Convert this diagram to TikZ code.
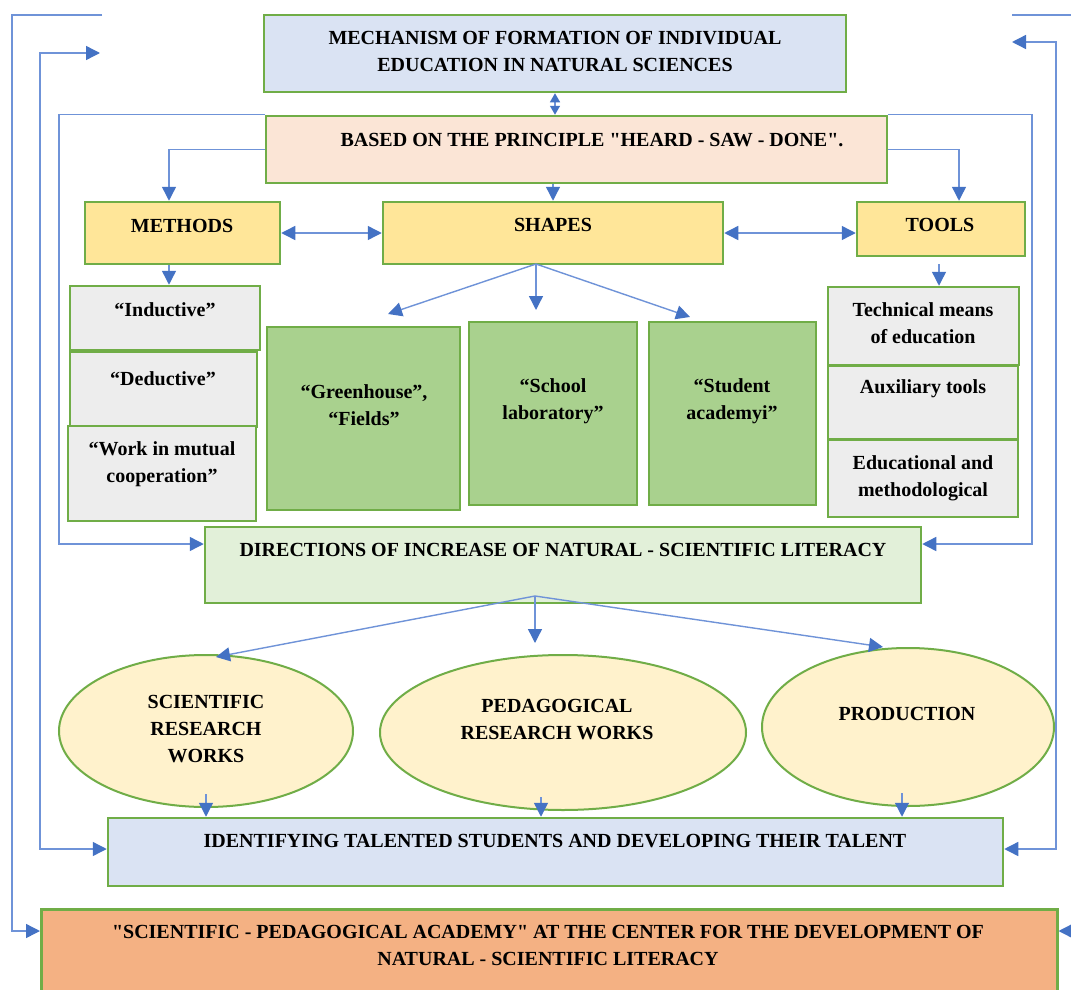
\documentclass[tikz,border=0pt]{standalone}
\usepackage{fontspec}
\setmainfont{Liberation Serif}[Ligatures=TeXOff]
\usetikzlibrary{arrows.meta,shapes.geometric}
\definecolor{bgreen}{HTML}{70AD47}
\definecolor{topblue}{HTML}{DAE3F3}
\definecolor{peach}{HTML}{FBE5D6}
\definecolor{yel}{HTML}{FFE699}
\definecolor{lgray}{HTML}{EDEDED}
\definecolor{mgreen}{HTML}{A9D18E}
\definecolor{pgreen}{HTML}{E2F0D9}
\definecolor{cream}{HTML}{FFF2CC}
\definecolor{orng}{HTML}{F4B183}
\definecolor{lineblue}{HTML}{6F93D8}
\definecolor{arrowblue}{HTML}{4472C4}
\begin{document}
\begin{tikzpicture}[x=1pt,y=-1pt,
  box/.style={draw=bgreen, line width=2.5pt, inner sep=0pt},
  ell/.style={ellipse, draw=bgreen, line width=2pt, fill=cream, inner sep=0pt},
  txt/.style={font=\fontsize{20}{27}\selectfont\bfseries, align=center, inner sep=0pt, text=black},
  conn/.style={draw=lineblue, line width=1.4pt},
  tip/.style={conn, -{Triangle[length=14pt,width=14pt,color=arrowblue]}},
  dtip/.style={conn, {Triangle[length=14pt,width=14pt,color=arrowblue]}-{Triangle[length=14pt,width=14pt,color=arrowblue]}},
  stip/.style={conn, {Triangle[length=9pt,width=10pt,color=arrowblue]}-{Triangle[length=9pt,width=10pt,color=arrowblue]}}
]
\clip (0,0) rectangle (1071,990);
\fill[white] (0,0) rectangle (1071,990);

% ---------- boxes ----------
\node[box, fill=topblue, minimum width=582pt, minimum height=77pt] (top) at (555,53.5) {};
\node[txt] (topT) at (555,51.5) {MECHANISM OF FORMATION OF INDIVIDUAL\\EDUCATION IN NATURAL SCIENCES};

\node[box, fill=peach, minimum width=621pt, minimum height=67pt] (prin) at (576.5,149.5) {};
\node[txt] (prinT) at (592,140) {BASED ON THE PRINCIPLE "HEARD - SAW - DONE".};

\node[box, fill=yel, minimum width=195pt, minimum height=62pt] (meth) at (182.5,233) {};
\node[txt] (methT) at (182,226) {METHODS};
\node[box, fill=yel, minimum width=340pt, minimum height=62pt] (shap) at (553,233) {};
\node[txt] (shapT) at (553,225) {SHAPES};
\node[box, fill=yel, minimum width=168pt, minimum height=54pt] (tool) at (941,229) {};
\node[txt] (toolT) at (940,225) {TOOLS};

\node[box, fill=lgray, minimum width=190pt, minimum height=64pt] (ind) at (165,318) {};
\node[txt] (indT) at (165,310) {“Inductive”};
\node[box, fill=lgray, minimum width=187pt, minimum height=75pt] (ded) at (163.5,389.5) {};
\node[txt] (dedT) at (163,379) {“Deductive”};
\node[box, fill=lgray, minimum width=188pt, minimum height=95pt] (work) at (162,473.5) {};
\node[txt] (workT) at (162,464.5) {“Work in mutual\\cooperation”};

\node[box, fill=mgreen, minimum width=193pt, minimum height=183pt] (gh) at (363.5,418.5) {};
\node[txt] (ghT) at (364,405.5) {“Greenhouse”,\\“Fields”};
\node[box, fill=mgreen, minimum width=168pt, minimum height=183pt] (lab) at (553,413.5) {};
\node[txt] (labT) at (553,401.5) {“School\\laboratory”};
\node[box, fill=mgreen, minimum width=167pt, minimum height=183pt] (acy) at (732.5,413.5) {};
\node[txt] (acyT) at (732,401.5) {“Student\\academyi”};

\node[box, fill=lgray, minimum width=191pt, minimum height=78pt] (tech) at (923.5,326) {};
\node[txt] (techT) at (923,323.5) {Technical means\\of education};
\node[box, fill=lgray, minimum width=190pt, minimum height=73pt] (aux) at (923,402.5) {};
\node[txt] (auxT) at (923,389) {Auxiliary tools};
\node[box, fill=lgray, minimum width=190pt, minimum height=77pt] (edu) at (923,478.5) {};
\node[txt] (eduT) at (923,478.5) {Educational and\\methodological};

\node[box, fill=pgreen, minimum width=716pt, minimum height=76pt] (dir) at (563,565) {};
\node[txt] (dirT) at (563,550) {DIRECTIONS OF INCREASE OF NATURAL - SCIENTIFIC LITERACY};

\node[ell, minimum width=294pt, minimum height=152pt] (sci) at (206,731) {};
\node[txt] (sciT) at (206,729) {SCIENTIFIC\\RESEARCH\\WORKS};
\node[ell, minimum width=366pt, minimum height=155pt] (ped) at (563,732.5) {};
\node[txt] (pedT) at (557,719.5) {PEDAGOGICAL\\RESEARCH WORKS};
\node[ell, minimum width=292pt, minimum height=158pt] (prod) at (908,727) {};
\node[txt] (prodT) at (907,714) {PRODUCTION};

\node[box, fill=topblue, minimum width=895pt, minimum height=68pt] (ident) at (555.5,852) {};
\node[txt] (identT) at (555,841) {IDENTIFYING TALENTED STUDENTS AND DEVELOPING THEIR TALENT};

\node[box, fill=orng, minimum width=1016pt, minimum height=100pt, anchor=north west] (acad) at (40,908) {};
\node[txt] (acadT) at (548,945) {"SCIENTIFIC - PEDAGOGICAL ACADEMY" AT THE CENTER FOR THE DEVELOPMENT OF\\NATURAL - SCIENTIFIC LITERACY};

% ---------- free end points ----------
\coordinate (sh0) at (536,264);
\coordinate (ghA) at (388,314);
\coordinate (labA) at (536,310);
\coordinate (acyA) at (690,317);
\coordinate (tl0) at (939,264);
\coordinate (d0) at (535,596);
\coordinate (sciA) at (216,657);
\coordinate (pedA) at (535,643);
\coordinate (prodA) at (883,647);
\coordinate (lt1) at (102,15);
\coordinate (lt2) at (100,53);
\coordinate (rt1) at (1012,15);
\coordinate (rt1e) at (1071,15);
\coordinate (rt2) at (1012,42);
\coordinate (rb) at (1071,931);

% ---------- connectors ----------
\draw[stip] (top.south) -- (top.south |- prin.north);
\draw[tip] (prin.north west) -| (59,544) -- ([yshift=21pt]dir.west);
\draw[tip] (prin.north east) -| (1032,544) -- ([yshift=21pt]dir.east);
\draw[tip] (prin.west) -| ([xshift=-13.5pt]meth.north);
\draw[tip] (prin.east) -| ([xshift=18pt]tool.north);
\draw[tip] (shap.north |- prin.south) -- (shap.north);
\draw[dtip] (meth.east) -- (shap.west);
\draw[dtip] (shap.east) -- (shap.east -| tool.west);
\draw[tip] ([xshift=-13.5pt]meth.south) -- ([xshift=-13.5pt]meth.south |- ind.north);
\draw[tip] (sh0) -- (ghA);
\draw[tip] (sh0) -- (labA);
\draw[tip] (sh0) -- (acyA);
\draw[tip] (tl0) -- (tl0 |- tech.north);
\draw[tip] (d0) -- (sciA);
\draw[tip] (d0) -- (pedA);
\draw[tip] (d0) -- (prodA);
\draw[tip] ([yshift=14pt]sci.south) -- (sci.south |- ident.north);
\draw[tip] ([yshift=14pt]ped.south -| 541,0) -- (541,0 |- ident.north);
\draw[tip] ([yshift=14pt]prod.south -| 902,0) -- (902,0 |- ident.north);
\draw[tip] (lt1) -| (12,931) -- ([yshift=-23pt]acad.north west);
\draw[dtip] (lt2) -| (40,849) -- ([yshift=3pt]ident.west);
\draw[conn] (rt1) -- (rt1e);
\draw[dtip] (rt2) -| (1056,849) -- ([yshift=3pt]ident.east);
\draw[tip] (rb) -- ([yshift=-23pt]acad.north east);
\end{tikzpicture}
\end{document}
